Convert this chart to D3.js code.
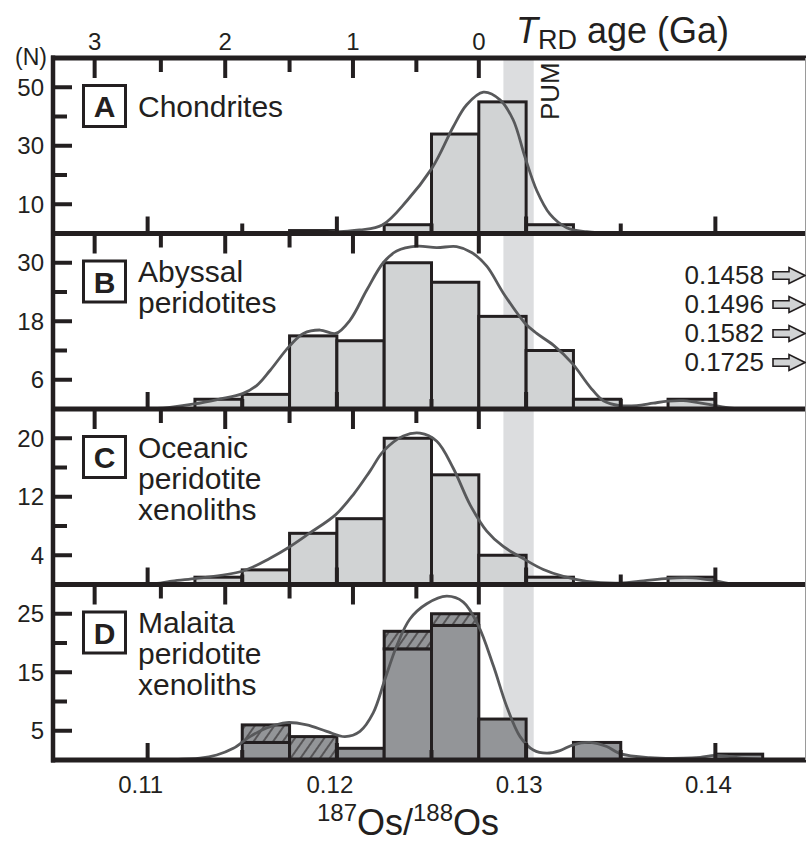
<!DOCTYPE html>
<html>
<head>
<meta charset="utf-8">
<script src="https://cdn.jsdelivr.net/npm/d3@7"></script>
<style>
  body { margin: 0; background: #fff; }
  svg { display: block; font-family: "Liberation Sans", Arial, Helvetica, sans-serif; }
</style>
</head>
<body>
<svg id="chart" width="806" height="844"></svg>
<script>
// histogram bins (left edges), width 0.0025
var binWidth = 0.0025;
var binStarts = [0.1125, 0.115, 0.1175, 0.12, 0.1225, 0.125, 0.1275, 0.13, 0.1325, 0.135, 0.1375, 0.14];
var countsA = [0, 0, 1, 0, 3, 34, 45, 3, 0, 0, 0, 0];
var countsB = [2, 3, 15, 14, 30, 26, 19, 12, 2, 0, 2, 0];
var countsC = [1, 2, 7, 9, 20, 15, 4, 1, 0, 0, 1, 0];
var countsD = [0, 3, 0, 2, 19, 23, 7, 0, 3, 0, 0, 1];
var hatchD  = [0, 3, 4, 0, 3, 2, 0, 0, 0, 0, 0, 0];

// probability density curves [187Os/188Os, N]
var curveA = [[0.1130,0],[0.1170,0.1],[0.1195,0.4],[0.1212,1.2],[0.1224,2.9],[0.1237,11.2],[0.1250,22.1],
  [0.12545,27.3],[0.12615,36.5],[0.12686,44.0],[0.12774,48.3],[0.12862,45.7],[0.12932,38.8],[0.12994,26.1],
  [0.13056,14.7],[0.13126,6.6],[0.13214,2.0],[0.1332,0.6],[0.1350,0.05],[0.1380,0]];
var curveB = [[0.1090,0],[0.1105,0.1],[0.11118,0.33],[0.11247,1.03],[0.11382,2.07],[0.11499,3.1],[0.11576,4.8],
  [0.11647,7.9],[0.11747,12.8],[0.11823,15.5],[0.11911,16.2],[0.11994,15.5],[0.12069,18.2],[0.12158,24.4],
  [0.12245,30.0],[0.12316,32.4],[0.12422,33.4],[0.12527,33.1],[0.12633,33.3],[0.12712,32.1],[0.12792,29.3],
  [0.12879,23.8],[0.12994,17.6],[0.13056,15.5],[0.13144,13.1],[0.13245,9.3],[0.13338,4.5],[0.13408,1.7],
  [0.13496,0.7],[0.13584,0.7],[0.13672,1.2],[0.13748,1.6],[0.1383,1.7],[0.1400,0.7],[0.1410,0.1],[0.1425,0]];
var curveC = [[0.1090,0],[0.1105,0.15],[0.11118,0.44],[0.11247,0.81],[0.11499,1.81],[0.11647,3.6],[0.11747,5.1],
  [0.11858,7.06],[0.11994,9.56],[0.12087,12.3],[0.12175,15.5],[0.12245,18.2],[0.12351,20.3],[0.12439,20.7],
  [0.12528,19.6],[0.12615,15.9],[0.12704,10.9],[0.12792,7.3],[0.12879,5.2],[0.12994,3.4],[0.13091,2.05],
  [0.13197,1.1],[0.1332,0.44],[0.13496,0.2],[0.1362,0.5],[0.1375,0.85],[0.1388,0.9],[0.1400,0.5],[0.1410,0.05],[0.1425,0]];
var curveD = [[0.1100,0],[0.11101,0.05],[0.11277,0.3],[0.11365,0.86],[0.11453,2.0],[0.11541,4.0],[0.11629,5.46],
  [0.11735,6.4],[0.11841,6.0],[0.11946,4.9],[0.12043,4.0],[0.12122,4.9],[0.12192,8.05],[0.12254,13.8],
  [0.12316,19.5],[0.12386,24.1],[0.12475,26.7],[0.1258,28.0],[0.12668,27.0],[0.12747,23.0],[0.12827,16.1],
  [0.12897,9.2],[0.12968,4.0],[0.13038,1.7],[0.13109,1.16],[0.13179,1.6],[0.13249,2.6],[0.13338,3.0],
  [0.13426,2.3],[0.13496,1.1],[0.13654,0.4],[0.1383,0.3],[0.1392,0.45],[0.13998,0.78],[0.14077,0.6],
  [0.14157,0.26],[0.1440,0]];

var panelLetters = ["A", "B", "C", "D"];
var panelNames = [["Chondrites"], ["Abyssal", "peridotites"], ["Oceanic", "peridotite", "xenoliths"], ["Malaita", "peridotite", "xenoliths"]];
var yMaxes = [60, 36, 24, 30];
var yLabelTicks = [[10, 30, 50], [6, 18, 30], [4, 12, 20], [5, 15, 25]];
var yMinorTicks = [[20, 40], [12, 24], [8, 16], [10, 20]];

var osTicks = [0.11, 0.115, 0.12, 0.125, 0.13, 0.135, 0.14];
var osLabels = [0.11, 0.12, 0.13, 0.14];
var ageTicks = [3, 2.5, 2, 1.5, 1, 0.5, 0];
var ageTickOs = [0.1072, 0.1107, 0.1141, 0.1175, 0.12085, 0.1242, 0.1275];
var pumRange = [0.1288, 0.1304];
var offScale = ["0.1458", "0.1496", "0.1582", "0.1725"];

var counts = [countsA, countsB, countsC, countsD];
var curves = [curveA, curveB, curveC, curveD];

var W = 806, H = 844;
var frameL = 53, frameT = 58, frameB = 760;
var panelH = (frameB - frameT) / 4;
var ink = "#231f20";

var x = d3.scaleLinear().domain([0.105, 0.145]).range([53, 810]);
var age = d3.scaleLinear().domain(ageTicks).range(ageTickOs.map(function(v){ return x(v); }));

var svg = d3.select("#chart");
svg.append("rect").attr("width", W).attr("height", H).attr("fill", "#fff");

var pat = svg.append("defs").append("pattern")
    .attr("id", "hatch")
    .attr("patternUnits", "userSpaceOnUse")
    .attr("width", 8).attr("height", 8)
    .attr("patternTransform", "rotate(35)");
pat.append("rect").attr("width", 8).attr("height", 8).attr("fill", "#939598");
pat.append("line").attr("x1", 1).attr("y1", 0).attr("x2", 1).attr("y2", 8)
    .attr("stroke", ink).attr("stroke-width", 1.1);

// PUM band
svg.append("rect")
    .attr("x", x(pumRange[0]))
    .attr("width", x(pumRange[1]) - x(pumRange[0]))
    .attr("y", frameT).attr("height", frameB - frameT)
    .attr("fill", "#dcdddf");

panelLetters.forEach(function(letter, i) {
    var y0 = frameT + i * panelH, y1 = y0 + panelH;
    var y = d3.scaleLinear().domain([0, yMaxes[i]]).range([y1, y0]);
    var g = svg.append("g").attr("class", "panel");

    var bins = binStarts.map(function(b, j) {
        return {b: b, n: counts[i][j], h: i === 3 ? hatchD[j] : 0};
    });

    g.selectAll("rect.bar")
        .data(bins.filter(function(d){ return d.n > 0; }))
        .join("rect")
        .attr("class", "bar")
        .attr("x", function(d){ return x(d.b); })
        .attr("width", function(d){ return x(d.b + binWidth) - x(d.b); })
        .attr("y", function(d){ return y(d.n); })
        .attr("height", function(d){ return y(0) - y(d.n); })
        .attr("fill", i === 3 ? "#939598" : "#d1d3d4")
        .attr("stroke", ink)
        .attr("stroke-width", 3);

    g.selectAll("rect.hatch")
        .data(bins.filter(function(d){ return d.h > 0; }))
        .join("rect")
        .attr("class", "hatch")
        .attr("x", function(d){ return x(d.b); })
        .attr("width", function(d){ return x(d.b + binWidth) - x(d.b); })
        .attr("y", function(d){ return y(d.n + d.h); })
        .attr("height", function(d){ return y(d.n) - y(d.n + d.h); })
        .attr("fill", "url(#hatch)")
        .attr("stroke", ink)
        .attr("stroke-width", 3);

    var line = d3.line()
        .x(function(d){ return x(d[0]); })
        .y(function(d){ return Math.min(y(d[1]), y(0)); })
        .curve(d3.curveCatmullRom.alpha(0.5));
    g.append("path")
        .datum(curves[i])
        .attr("d", line)
        .attr("fill", "none")
        .attr("stroke", "#58595b")
        .attr("stroke-width", 2.8);

    // bottom ticks (Os ratio)
    g.selectAll("line.ost")
        .data(osTicks)
        .join("line")
        .attr("class", "ost")
        .attr("x1", function(d){ return x(d); }).attr("x2", function(d){ return x(d); })
        .attr("y1", y1)
        .attr("y2", function(d){ return osLabels.indexOf(d) >= 0 ? y1 - 17 : y1 - 10; })
        .attr("stroke", ink).attr("stroke-width", 4);

    // top ticks (TRD age)
    g.selectAll("line.aget")
        .data(ageTicks)
        .join("line")
        .attr("class", "aget")
        .attr("x1", function(d){ return age(d); }).attr("x2", function(d){ return age(d); })
        .attr("y1", y0)
        .attr("y2", function(d){ return d % 1 === 0 ? y0 + 20 : y0 + 14; })
        .attr("stroke", ink).attr("stroke-width", 4);

    // left ticks
    g.selectAll("line.yt")
        .data(yLabelTicks[i].concat(yMinorTicks[i]))
        .join("line")
        .attr("class", "yt")
        .attr("x1", frameL)
        .attr("x2", function(d){ return yLabelTicks[i].indexOf(d) >= 0 ? frameL + 19 : frameL + 14; })
        .attr("y1", function(d){ return y(d); }).attr("y2", function(d){ return y(d); })
        .attr("stroke", ink).attr("stroke-width", 4);

    g.selectAll("text.yl")
        .data(yLabelTicks[i])
        .join("text")
        .attr("class", "yl")
        .attr("x", 44)
        .attr("y", function(d){ return y(d); })
        .attr("dy", "0.36em")
        .attr("text-anchor", "end")
        .attr("font-size", 24)
        .attr("fill", ink)
        .text(function(d){ return d; });

    // panel label box
    var cy = y0 + 48;
    g.append("rect")
        .attr("x", 83.5).attr("y", cy - 20.5)
        .attr("width", 42).attr("height", 41)
        .attr("fill", "#fff").attr("stroke", ink).attr("stroke-width", 3);
    g.append("text")
        .attr("x", 104.5).attr("y", cy + 11)
        .attr("text-anchor", "middle")
        .attr("font-size", 30).attr("font-weight", "bold")
        .attr("fill", ink)
        .text(letter);
    var base = panelNames[i].length === 1 ? cy + 10.5 : cy + 0.5;
    g.selectAll("text.name")
        .data(panelNames[i])
        .join("text")
        .attr("class", "name")
        .attr("x", 138)
        .attr("y", function(d, k){ return base + k * 31; })
        .attr("font-size", 30)
        .attr("fill", ink)
        .text(function(d){ return d; });
});

// frame
for (var k = 0; k <= 4; k++) {
    svg.append("line")
        .attr("x1", frameL - 2).attr("x2", W)
        .attr("y1", frameT + k * panelH).attr("y2", frameT + k * panelH)
        .attr("stroke", ink).attr("stroke-width", 5);
}
svg.append("line")
    .attr("x1", frameL).attr("x2", frameL)
    .attr("y1", frameT - 2.5).attr("y2", frameB + 2.5)
    .attr("stroke", ink).attr("stroke-width", 4.5);
svg.append("line")
    .attr("x1", 805.5).attr("x2", 805.5)
    .attr("y1", frameT).attr("y2", frameB)
    .attr("stroke", "#9a9a9a").attr("stroke-width", 1);

// PUM label
svg.append("text")
    .attr("transform", "translate(559,120) rotate(-90)")
    .attr("font-size", 26)
    .attr("fill", ink)
    .text("PUM");

// top axis labels
svg.selectAll("text.agel")
    .data(ageTicks.filter(function(d){ return d % 1 === 0; }))
    .join("text")
    .attr("class", "agel")
    .attr("x", function(d){ return age(d); })
    .attr("y", 50)
    .attr("text-anchor", "middle")
    .attr("font-size", 24)
    .attr("fill", ink)
    .text(function(d){ return d; });

svg.append("text")
    .attr("x", 47).attr("y", 65)
    .attr("text-anchor", "end")
    .attr("font-size", 23)
    .attr("fill", ink)
    .text("(N)");

var tt = svg.append("text").attr("x", 516).attr("y", 43).attr("fill", ink).attr("font-size", 36);
tt.append("tspan").attr("font-style", "italic").text("T");
tt.append("tspan").attr("font-size", 27).attr("dy", 5.5).text("RD");
tt.append("tspan").attr("dy", -5.5).text(" age (Ga)");

// bottom axis labels
svg.selectAll("text.osl")
    .data(osLabels)
    .join("text")
    .attr("class", "osl")
    .attr("x", function(d){ return x(d) - 7; })
    .attr("y", 793)
    .attr("text-anchor", "middle")
    .attr("font-size", 24)
    .attr("fill", ink)
    .text(function(d){ return d3.format(".2f")(d); });

var xt = svg.append("text").attr("x", 408).attr("y", 835)
    .attr("text-anchor", "middle").attr("fill", ink).attr("font-size", 36);
xt.append("tspan").attr("font-size", 24).attr("dy", -14).text("187");
xt.append("tspan").attr("dy", 14).text("Os/");
xt.append("tspan").attr("font-size", 24).attr("dy", -14).text("188");
xt.append("tspan").attr("dy", 14).text("Os");

// off-scale abyssal values
var arrowPath = "M0,-3.8 L16,-3.8 L16,-8 L32,0 L16,8 L16,3.8 L0,3.8 Z";
offScale.forEach(function(v, k) {
    var by = 283.5 + k * 29;
    svg.append("text")
        .attr("x", 764).attr("y", by)
        .attr("text-anchor", "end")
        .attr("font-size", 26)
        .attr("fill", ink)
        .text(v);
    svg.append("path")
        .attr("d", arrowPath)
        .attr("transform", "translate(773," + (by - 8) + ")")
        .attr("fill", "#d1d3d4")
        .attr("stroke", ink)
        .attr("stroke-width", 1.6);
});
</script>
</body>
</html>
